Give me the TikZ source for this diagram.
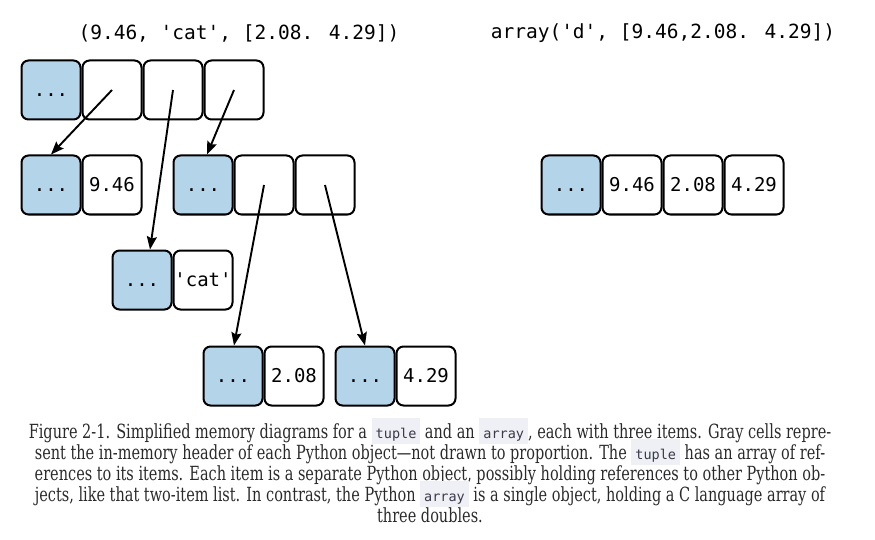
\documentclass[tikz,border=0pt]{standalone}
\usepackage{fontspec}
\usetikzlibrary{arrows.meta,calc}

\newfontfamily\cellmono{DejaVu Sans Mono}
\newfontfamily\capserif[FakeStretch=0.743]{DejaVu Serif}

\definecolor{hdrblue}{HTML}{B3D4E9}
\definecolor{chipbg}{HTML}{EEF0F5}
\definecolor{chiptext}{HTML}{3A3A48}
\definecolor{captext}{HTML}{2A2A2A}

% inline code chip used in the caption
\newcommand{\codechip}[1]{{\setlength{\fboxsep}{0pt}\colorbox{chipbg}{\hspace{4pt}\rule[-6pt]{0pt}{26pt}{\cellmono\fontsize{13.5}{14}\selectfont\color{chiptext}#1}\hspace{4pt}}}}

\begin{document}
\begin{tikzpicture}[x=1pt,y=-1pt,
  cell/.style={draw, line width=2pt, rounded corners=7pt, minimum width=59pt,
    minimum height=59pt, inner sep=0pt, fill=white,
    font=\cellmono\fontsize{19}{19}\selectfont},
  hdr/.style={cell, fill=hdrblue},
  ptr/.style={line width=1.9pt, -{Stealth[length=13pt,width=10pt,inset=2pt]}},
  title/.style={font=\cellmono\fontsize{19.5}{20}\selectfont, inner sep=0pt},
  capline/.style={anchor=base, inner sep=0pt, text=captext,
    font=\capserif\fontsize{19.5}{21}\selectfont}
]
\useasboundingbox (0,0) rectangle (875,540);

% headings
\node[title] (ttl1) at (239,33) {(9.46, 'cat', [2.08. 4.29])};
\node[title] (ttl2) at (663,33) {array('d', [9.46,2.08. 4.29])};

% tuple: header plus three references
\node[hdr]  (t0) at (51,90)   {\vphantom{9}...};
\node[cell] (t1) at (112,90)  {};
\node[cell] (t2) at (173,90)  {};
\node[cell] (t3) at (234,90)  {};

% float 9.46
\node[hdr]  (a0) at (51,185)  {\vphantom{9}...};
\node[cell] (a1) at (112,185) {9.46};

% list with two references
\node[hdr]  (l0) at (203,185) {\vphantom{9}...};
\node[cell] (l1) at (264,185) {};
\node[cell] (l2) at (325,185) {};

% str 'cat'
\node[hdr]  (c0) at (142,280) {\vphantom{9}...};
\node[cell] (c1) at (203,280) {'cat'};

% floats inside the list
\node[hdr]  (f0) at (233,376) {\vphantom{9}...};
\node[cell] (f1) at (294,376) {2.08};
\node[hdr]  (g0) at (365,376) {\vphantom{9}...};
\node[cell] (g1) at (426,376) {4.29};

% array object
\node[hdr]  (r0) at (571,185) {\vphantom{9}...};
\node[cell] (r1) at (632,185) {9.46};
\node[cell] (r2) at (693,185) {2.08};
\node[cell] (r3) at (754,185) {4.29};

% references
\draw[ptr] (t1.center) -- (a0.north);
\draw[ptr] (t2.center) -- ([xshift=8pt]c0.north);
\draw[ptr] (t3.center) -- ([xshift=4pt]l0.north);
\draw[ptr] (l1.center) -- ([xshift=1pt]f0.north);
\draw[ptr] (l2.center) -- (g0.north);

% caption
\node[capline] (cap1) at (430,438) {Figure 2-1. Simplified memory diagrams for a \codechip{tuple} and an \codechip{array}, each with three items. Gray cells repre-};
\node[capline] (cap2) at (430,459) {sent the in-memory header of each Python object—not drawn to proportion. The \codechip{tuple} has an array of ref-};
\node[capline] (cap3) at (430,480) {erences to its items. Each item is a separate Python object, possibly holding references to other Python ob-};
\node[capline] (cap4) at (430,501) {jects, like that two-item list. In contrast, the Python \codechip{array} is a single object, holding a C language array of};
\node[capline] (cap5) at (430,522) {three doubles.};
\end{tikzpicture}
\end{document}
